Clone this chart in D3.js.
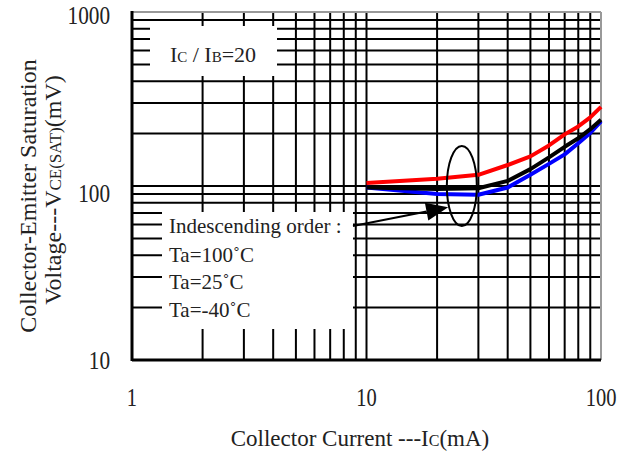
<!DOCTYPE html>
<html>
<head>
<meta charset="utf-8">
<script src="https://cdn.jsdelivr.net/npm/d3@7"></script>
<style>
  body { margin: 0; background: #fff; }
  text { font-family: "Liberation Serif", "Times New Roman", serif; fill: #222; }
</style>
</head>
<body>
<script>
// collector current (mA) and saturation voltage (mV) for each temperature
const current = [10, 20, 30, 40, 50, 60, 70, 80, 90, 100]
const vce100 = [104, 110, 116, 132, 148, 171, 198, 220, 248, 285]
const vce25 = [98, 96, 97, 107, 125, 146, 168, 188, 212, 240]
const vceM40 = [98, 90, 89, 98, 116, 134, 152, 176, 202, 235]

const xTickLabels = ['1', '10', '100']
const yTickLabels = ['10', '100', '1000']
const legendLines = ['Indescending order :', 'Ta=100˚C', 'Ta=25˚C', 'Ta=-40˚C']

const width = 629
const height = 452
const plotL = 132, plotR = 601, plotT = 12, plotB = 360

const svg = d3.select('body')
  .append('svg')
  .attr('width', width)
  .attr('height', height)

svg.append('rect').attr('width', width).attr('height', height).attr('fill', '#fff')

const x = d3.scaleLog().domain([1, 100]).range([plotL, plotR])
const y = d3.scaleLog().domain([10, 1000]).range([plotB, plotT])

// grid
svg.append('g')
  .selectAll('line')
  .data(x.ticks().filter(d => d > 1 && d < 100))
  .enter()
  .append('line')
  .attr('x1', d => x(d)).attr('x2', d => x(d))
  .attr('y1', plotT).attr('y2', plotB)
  .attr('stroke', '#000').attr('stroke-width', 2)

svg.append('g')
  .selectAll('line')
  .data(y.ticks().filter(d => d > 10 && d < 1000))
  .enter()
  .append('line')
  .attr('y1', d => y(d)).attr('y2', d => y(d))
  .attr('x1', plotL).attr('x2', plotR)
  .attr('stroke', '#000').attr('stroke-width', 2)

// legend boxes cover the grid
svg.append('rect').attr('x', 150).attr('y', 26).attr('width', 127).attr('height', 50).attr('fill', '#fff')
svg.append('rect').attr('x', 162).attr('y', 212).attr('width', 191).attr('height', 117).attr('fill', '#fff')

// frame
svg.append('line').attr('x1', plotL).attr('x2', plotR).attr('y1', plotT).attr('y2', plotT)
  .attr('stroke', '#999').attr('stroke-width', 2)
svg.append('line').attr('x1', plotR).attr('x2', plotR).attr('y1', plotT).attr('y2', plotB)
  .attr('stroke', '#999').attr('stroke-width', 2)
svg.append('line').attr('x1', plotL).attr('x2', plotL).attr('y1', plotT - 1).attr('y2', plotB + 1)
  .attr('stroke', '#000').attr('stroke-width', 3)
svg.append('line').attr('x1', plotL).attr('x2', plotR).attr('y1', plotB).attr('y2', plotB)
  .attr('stroke', '#000').attr('stroke-width', 3)

// curves
const line = d3.line()
  .x(d => x(d[0]))
  .y(d => y(d[1]))

const series = [
  { values: vceM40, color: '#0000ff' },
  { values: vce25, color: '#000' },
  { values: vce100, color: '#ff0000' }
]

svg.append('g')
  .selectAll('path')
  .data(series)
  .enter()
  .append('path')
  .attr('d', s => line(current.map((c, i) => [c, s.values[i]])))
  .attr('fill', 'none')
  .attr('stroke', s => s.color)
  .attr('stroke-width', 4)
  .attr('stroke-linejoin', 'round')

// ellipse and arrow
svg.append('ellipse')
  .attr('cx', x(25.5)).attr('cy', y(100))
  .attr('rx', 15).attr('ry', 40)
  .attr('fill', 'none').attr('stroke', '#000').attr('stroke-width', 2)

const a0 = [x(8.76), y(58.9)]
const a1 = [x(22.3), y(75.4)]
const ang = Math.atan2(a1[1] - a0[1], a1[0] - a0[0])
const headLen = 22, headW = 9
const base = [a1[0] - headLen * Math.cos(ang), a1[1] - headLen * Math.sin(ang)]
svg.append('line')
  .attr('x1', a0[0]).attr('y1', a0[1]).attr('x2', base[0]).attr('y2', base[1])
  .attr('stroke', '#000').attr('stroke-width', 2)
svg.append('polygon')
  .attr('points', [
    a1,
    [base[0] + headW * Math.sin(ang), base[1] - headW * Math.cos(ang)],
    [base[0] - headW * Math.sin(ang), base[1] + headW * Math.cos(ang)]
  ].map(p => p.join(',')).join(' '))
  .attr('fill', '#000')

// tick labels
svg.append('g')
  .selectAll('text')
  .data(xTickLabels)
  .enter()
  .append('text')
  .attr('transform', d => `translate(${x(+d)},406) scale(0.82,1)`)
  .attr('text-anchor', 'middle')
  .style('font-size', '25px')
  .text(d => d)

const yLabelPos = { '10': 369, '100': 202, '1000': 24 }
svg.append('g')
  .selectAll('text')
  .data(yTickLabels)
  .enter()
  .append('text')
  .attr('transform', d => `translate(110,${yLabelPos[d]}) scale(0.85,1)`)
  .attr('text-anchor', 'end')
  .style('font-size', '25px')
  .text(d => d)

// axis titles
const xt = svg.append('text')
  .attr('x', 360).attr('y', 446)
  .attr('text-anchor', 'middle')
  .style('font-size', '23px')
xt.append('tspan').text('Collector Current ---I')
xt.append('tspan').style('font-size', '16px').text('C')
xt.append('tspan').text('(mA)')

svg.append('text')
  .attr('transform', 'translate(36,196) rotate(-90)')
  .attr('text-anchor', 'middle')
  .style('font-size', '24px')
  .text('Collector-Emitter Saturation')

const yt = svg.append('text')
  .attr('transform', 'translate(61,190) rotate(-90)')
  .attr('text-anchor', 'middle')
  .style('font-size', '24px')
yt.append('tspan').text('Voltage---V')
yt.append('tspan').style('font-size', '17px').text('CE(SAT)')
yt.append('tspan').text('(mV)')

// legends
const lt = svg.append('text')
  .attr('x', 213).attr('y', 62)
  .attr('text-anchor', 'middle')
  .style('font-size', '22px')
lt.append('tspan').text('I')
lt.append('tspan').style('font-size', '15px').text('C')
lt.append('tspan').text(' / I')
lt.append('tspan').style('font-size', '15px').text('B')
lt.append('tspan').text('=20')

svg.append('g')
  .selectAll('text')
  .data(legendLines)
  .enter()
  .append('text')
  .attr('x', 169)
  .attr('y', (d, i) => [233, 262, 289, 317][i])
  .style('font-size', '21px')
  .text(d => d)
</script>
</body>
</html>
